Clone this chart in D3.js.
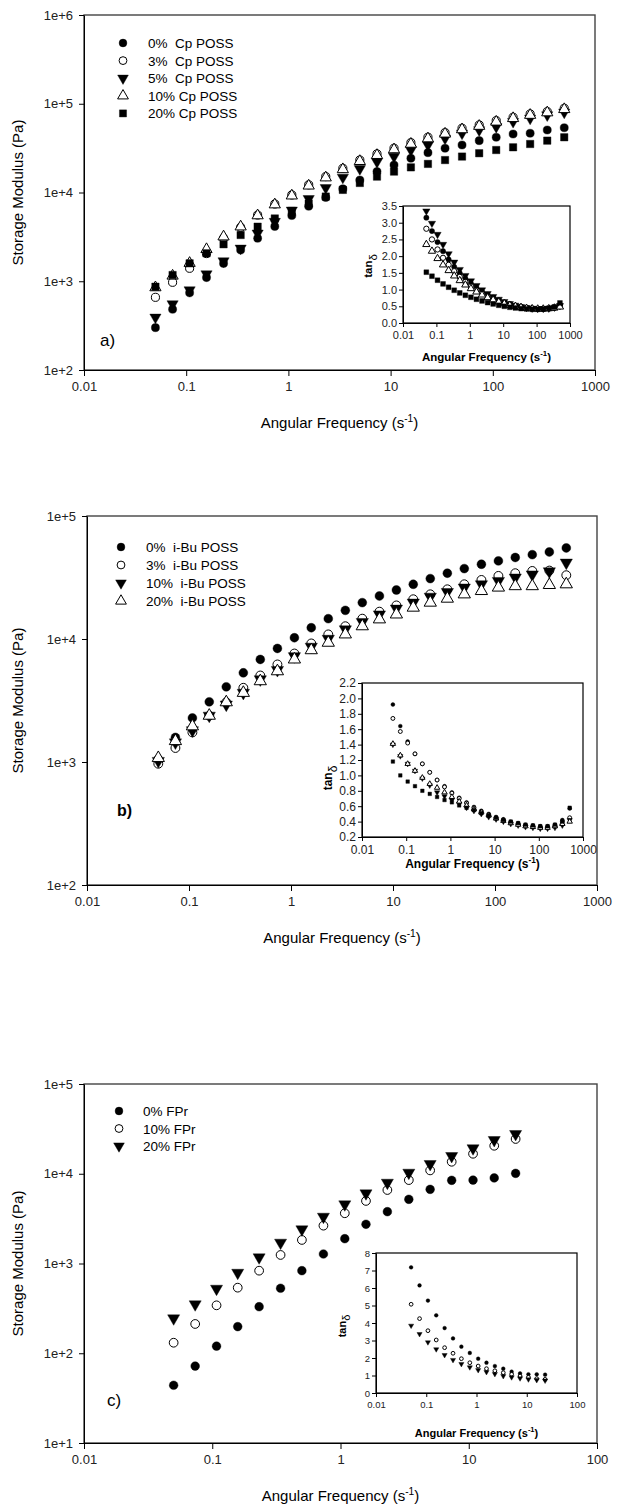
<!DOCTYPE html>
<html lang="en">
<head>
<meta charset="utf-8">
<title>Storage modulus vs angular frequency</title>
<script src="https://d3js.org/d3.v7.min.js"></script>
<style>
  body { margin: 0; background: #fff; }
  svg { display: block; font-family: "Liberation Sans", Arial, sans-serif; }
</style>
</head>
<body>
<svg id="chart" width="631" height="1505"></svg>
<script>
// ---- data ----
var freq = [0.05, 0.0736, 0.108, 0.158, 0.232, 0.341, 0.5, 0.736, 1.08, 1.58, 2.32, 3.41, 5,
            7.36, 10.8, 15.8, 23.2, 34.1, 50, 73.6, 108, 158, 232, 341, 500];
var freqC = [0.05, 0.0736, 0.108, 0.158, 0.232, 0.341, 0.5, 0.736, 1.08, 1.58, 2.32, 3.41, 5,
             7.36, 10.8, 15.8, 23.2];

// panel a) Cp POSS, storage modulus (Pa)
var gA0  = [300, 483, 740, 1100, 1590, 2250, 3050, 4150, 5500, 7000, 8800, 11000, 13800, 17200, 20400, 24300, 28100, 31500, 34300, 38400, 41900, 45600, 46500, 50600, 53700];
var gA3  = [659, 973, 1400, 2050, 3050, 4050, 5570, 7420, 9380, 12200, 15100, 18700, 23200, 27200, 31500, 36400, 41900, 47200, 52900, 57600, 64500, 70400, 76700, 81500, 88800];
var gA5  = [392, 554, 796, 1205, 1690, 2350, 3470, 4700, 6300, 8500, 11300, 14800, 18500, 22200, 25400, 30100, 34300, 40800, 46500, 50600, 55200, 62900, 68500, 74600, 80100];
var gA10 = [850, 1150, 1600, 2290, 3180, 4120, 5500, 7300, 9200, 11900, 14700, 18200, 22500, 26300, 30500, 35200, 40500, 45800, 51300, 56000, 62500, 68500, 74500, 79500, 86500];
var gA20 = [868, 1175, 1592, 2065, 2610, 3320, 4120, 5100, 6200, 7500, 9000, 10700, 12800, 15100, 17200, 19200, 21000, 23200, 25400, 27700, 30100, 32300, 35200, 38400, 41900];
// panel a) inset, tan delta
var tA0  = [3.15, 2.75, 2.42, 2.15, 1.90, 1.68, 1.49, 1.33, 1.18, 1.05, 0.94, 0.84, 0.76, 0.68, 0.62, 0.57, 0.52, 0.49, 0.46, 0.44, 0.43, 0.43, 0.44, 0.47, 0.55];
var tA3  = [2.82, 2.50, 2.20, 1.95, 1.74, 1.55, 1.38, 1.23, 1.10, 0.99, 0.89, 0.80, 0.72, 0.65, 0.60, 0.55, 0.51, 0.48, 0.45, 0.43, 0.42, 0.42, 0.43, 0.45, 0.50];
var tA5  = [3.35, 2.98, 2.65, 2.35, 2.07, 1.82, 1.60, 1.42, 1.26, 1.12, 0.99, 0.88, 0.79, 0.71, 0.64, 0.58, 0.53, 0.49, 0.46, 0.44, 0.43, 0.43, 0.44, 0.47, 0.52];
var tA10 = [2.35, 2.15, 1.93, 1.74, 1.57, 1.41, 1.27, 1.14, 1.03, 0.93, 0.84, 0.76, 0.69, 0.63, 0.58, 0.53, 0.50, 0.47, 0.44, 0.43, 0.42, 0.42, 0.43, 0.45, 0.48];
var tA20 = [1.52, 1.40, 1.28, 1.17, 1.07, 0.98, 0.90, 0.83, 0.77, 0.71, 0.66, 0.61, 0.57, 0.53, 0.50, 0.47, 0.45, 0.43, 0.42, 0.41, 0.41, 0.42, 0.44, 0.48, 0.60];

// panel b) i-Bu POSS
var gB0  = [1050, 1585, 2280, 3085, 4085, 5310, 6820, 8380, 10240, 12350, 14630, 17100, 19760, 22380, 25030, 27850, 30980, 34260, 37360, 40530, 43150, 46000, 48500, 51000, 55000];
var gB3  = [968, 1300, 1740, 2380, 3060, 4010, 5050, 6210, 7620, 9200, 10900, 12700, 14630, 16680, 18750, 21040, 23080, 25350, 27850, 30200, 32580, 34250, 35750, 36000, 33000];
var gB10 = [1020, 1443, 1810, 2380, 2930, 3650, 4700, 5600, 7250, 8650, 10040, 11970, 13740, 15840, 17650, 19770, 22070, 24090, 26200, 27850, 29620, 31600, 33500, 35500, 41800];
var gB20 = [1077, 1480, 1950, 2380, 3060, 3650, 4540, 5470, 6820, 8110, 9330, 10900, 12700, 14450, 15840, 17990, 19760, 21290, 23070, 24560, 26200, 26900, 26900, 27500, 27850];
var tB0  = [1.92, 1.64, 1.44, 1.28, 1.15, 1.04, 0.94, 0.86, 0.78, 0.71, 0.65, 0.59, 0.54, 0.50, 0.46, 0.43, 0.40, 0.38, 0.36, 0.35, 0.34, 0.34, 0.36, 0.42, 0.57];
var tB3  = [1.74, 1.57, 1.42, 1.28, 1.15, 1.04, 0.94, 0.85, 0.77, 0.70, 0.64, 0.58, 0.53, 0.49, 0.45, 0.42, 0.39, 0.37, 0.35, 0.34, 0.33, 0.33, 0.35, 0.40, 0.45];
var tB10 = [1.40, 1.25, 1.15, 1.06, 0.96, 0.87, 0.78, 0.73, 0.68, 0.63, 0.58, 0.54, 0.50, 0.46, 0.43, 0.40, 0.37, 0.35, 0.33, 0.32, 0.31, 0.31, 0.32, 0.35, 0.42];
var tB20 = [1.41, 1.26, 1.15, 1.06, 0.97, 0.89, 0.84, 0.78, 0.72, 0.66, 0.61, 0.56, 0.52, 0.48, 0.44, 0.41, 0.38, 0.36, 0.34, 0.33, 0.32, 0.32, 0.34, 0.37, 0.40];
var tBsq = [1.18, 1.00, 0.92, 0.86, 0.80, 0.76, 0.72, 0.68, 0.65, 0.61, 0.58, 0.55, 0.51, 0.48, 0.45, 0.42, 0.40, 0.38, 0.36, 0.35, 0.34, 0.34, 0.36, 0.40, 0.58];

// panel c) FPr
var gC0  = [44, 72, 120, 198, 330, 530, 832, 1276, 1890, 2735, 3780, 5190, 6700, 8450, 8500, 8980, 10100];
var gC10 = [131, 212, 342, 538, 832, 1245, 1830, 2640, 3630, 4980, 6590, 8500, 10900, 13600, 16700, 20500, 24400];
var gC20 = [245, 351, 524, 789, 1172, 1707, 2405, 3323, 4563, 6050, 7950, 10280, 12850, 15770, 19230, 23780, 27750];
var tC0  = [7.18, 6.15, 5.28, 4.44, 3.71, 3.12, 2.65, 2.29, 1.96, 1.73, 1.54, 1.39, 1.22, 1.12, 1.07, 1.07, 1.05];
var tC10 = [5.07, 4.25, 3.56, 3.03, 2.59, 2.27, 1.96, 1.73, 1.54, 1.39, 1.27, 1.16, 1.07, 0.97, 0.90, 0.82, 0.78];
var tC20 = [3.85, 3.37, 2.90, 2.50, 2.17, 1.89, 1.66, 1.47, 1.31, 1.20, 1.09, 0.97, 0.90, 0.84, 0.78, 0.74, 0.71];

var legendA = ["0%  Cp POSS", "3%  Cp POSS", "5%  Cp POSS", "10% Cp POSS", "20% Cp POSS"];
var legendB = ["0%  i-Bu POSS", "3%  i-Bu POSS", "10%  i-Bu POSS", "20%  i-Bu POSS"];
var legendC = ["0% FPr", "10% FPr", "20% FPr"];

var ticksX5 = [0.01, 0.1, 1, 10, 100, 1000];
var ticksX4 = [0.01, 0.1, 1, 10, 100];

// ---- marker kinds ----
var FILLED = {shape: d3.symbolCircle, fill: "#000"},
    OPEN   = {shape: d3.symbolCircle, fill: "#fff"},
    TDOWN  = {shape: d3.symbolTriangle, fill: "#000", down: true},
    TUP    = {shape: d3.symbolTriangle, fill: "#fff"},
    SQUARE = {shape: d3.symbolSquare, fill: "#000"};

var svg = d3.select("#chart");

function markerPath(m, size) {
  var s = size;
  if (m.shape === d3.symbolTriangle) s = size * 1.05;
  if (m.shape === d3.symbolSquare) s = size * 1.05;
  return d3.symbol().type(m.shape).size(s)();
}

function drawSeries(g, x, y, xs, ys, m, size) {
  g.append("g").selectAll("path")
    .data(ys.map(function(v, i) { return [xs[i], v]; }))
    .enter().append("path")
      .attr("d", markerPath(m, size))
      .attr("transform", function(d) {
        return "translate(" + x(d[0]) + "," + y(d[1]) + ")" + (m.down ? " rotate(180)" : "");
      })
      .attr("fill", m.fill)
      .attr("stroke", "#000")
      .attr("stroke-width", m.fill === "#fff" ? 1 : 0.4);
}

function freqTitle(g, cx, cy, size, bold) {
  var t = g.append("text")
      .attr("x", cx).attr("y", cy)
      .attr("text-anchor", "middle")
      .style("font-size", size + "px")
      .style("font-weight", bold ? "bold" : "normal");
  t.append("tspan").text("Angular Frequency (s");
  t.append("tspan").attr("dy", -size * 0.42).style("font-size", (size * 0.68) + "px").text("-1");
  t.append("tspan").attr("dy", size * 0.42).text(")");
}

function styleAxis(a, fs, color) {
  a.selectAll("text").style("font-size", fs + "px").attr("fill", color);
  a.selectAll("line").attr("stroke", "#000");
  a.select(".domain").attr("stroke", "#000");
}

// main log-log panel
function mainPanel(p) {
  var g = svg.append("g");
  var x = d3.scaleLog().domain(p.xdom).range([p.x0, p.x1]);
  var y = d3.scaleLog().domain(p.ydom).range([p.y1, p.y0]);

  g.append("rect")
    .attr("x", p.x0).attr("y", p.y0)
    .attr("width", p.x1 - p.x0).attr("height", p.y1 - p.y0)
    .attr("fill", "none").attr("stroke", "#444").attr("stroke-width", 1.4);

  var ax = g.append("g").attr("transform", "translate(0," + p.y1 + ")")
    .call(d3.axisBottom(x).tickValues(p.xticks).tickFormat(d3.format("~g"))
      .tickSize(6).tickSizeOuter(0).tickPadding(6));
  styleAxis(ax, 13, "#222");

  var yticks = [];
  for (var e = Math.round(Math.log10(p.ydom[0])); e <= Math.round(Math.log10(p.ydom[1])); e++) yticks.push(Math.pow(10, e));
  var ay = g.append("g").attr("transform", "translate(" + p.x0 + ",0)")
    .call(d3.axisLeft(y).tickValues(yticks)
      .tickFormat(function(v) { return "1e+" + Math.round(Math.log10(v)); })
      .tickSize(5).tickSizeOuter(0).tickPadding(6));
  styleAxis(ay, 13, "#222");

  freqTitle(g, (p.x0 + p.x1) / 2, p.y1 + 58, 15, false);

  g.append("text")
    .attr("transform", "translate(23," + ((p.y0 + p.y1) / 2) + ") rotate(-90)")
    .attr("text-anchor", "middle")
    .style("font-size", "15px")
    .text("Storage Modulus (Pa)");

  p.series.forEach(function(s) { drawSeries(g, x, y, p.xs, s.values, s.marker, p.msize); });

  // legend
  p.legend.forEach(function(label, i) {
    var ly = p.legY + i * p.legDy;
    g.append("path")
      .attr("d", markerPath(p.series[i].marker, p.lsize))
      .attr("transform", "translate(" + p.legX + "," + ly + ")" + (p.series[i].marker.down ? " rotate(180)" : ""))
      .attr("fill", p.series[i].marker.fill)
      .attr("stroke", "#000")
      .attr("stroke-width", p.series[i].marker.fill === "#fff" ? 1 : 0.4);
    g.append("text")
      .attr("x", p.legX + p.legGap).attr("y", ly + 5)
      .attr("xml:space", "preserve")
      .style("white-space", "pre")
      .style("font-size", "13.5px")
      .text(label);
  });

  g.append("text")
    .attr("x", p.tag.x).attr("y", p.tag.y)
    .style("font-size", p.tag.size + "px")
    .style("font-weight", p.tag.bold ? "bold" : "normal")
    .text(p.tag.text);
}

// tan delta inset
function insetPanel(p) {
  var g = svg.append("g");
  var x = d3.scaleLog().domain(p.xdom).range([p.x0, p.x1]);
  var y = d3.scaleLinear().domain(p.ydom).range([p.y1, p.y0]);

  g.append("rect")
    .attr("x", p.x0).attr("y", p.y0)
    .attr("width", p.x1 - p.x0).attr("height", p.y1 - p.y0)
    .attr("fill", "#fff").attr("stroke", "#000").attr("stroke-width", 1.2);

  var ax = g.append("g").attr("transform", "translate(0," + p.y1 + ")")
    .call(d3.axisBottom(x).tickValues(p.xticks).tickFormat(d3.format("~g"))
      .tickSize(4).tickSizeOuter(0).tickPadding(4));
  styleAxis(ax, p.fs, "#222");

  var ay = g.append("g").attr("transform", "translate(" + p.x0 + ",0)")
    .call(d3.axisLeft(y).tickValues(p.yticks).tickFormat(d3.format(p.yfmt))
      .tickSize(4).tickSizeOuter(0).tickPadding(2));
  styleAxis(ay, p.fs, "#222");

  freqTitle(g, (p.x0 + p.x1) / 2, p.titleY, p.tfs, true);

  // "tan" with a subscript delta, read bottom-to-top
  var t = g.append("text")
    .attr("transform", "translate(" + p.labX + "," + p.labY + ") rotate(-90)")
    .attr("text-anchor", "middle")
    .style("font-size", p.tfs + "px")
    .style("font-weight", "bold");
  t.append("tspan").text("tan");
  t.append("tspan").attr("dy", p.tfs * 0.4).style("font-weight", "normal").text("δ");

  p.series.forEach(function(s) { drawSeries(g, x, y, p.xs, s.values, s.marker, p.msize); });
}

// ---- panel a ----
mainPanel({
  x0: 84, x1: 595, y0: 15, y1: 370, xdom: [0.01, 1000], ydom: [1e2, 1e6], xticks: ticksX5,
  xs: freq, msize: 52, lsize: 48,
  series: [
    {values: gA0, marker: FILLED}, {values: gA3, marker: OPEN}, {values: gA5, marker: TDOWN},
    {values: gA10, marker: TUP}, {values: gA20, marker: SQUARE}
  ],
  legend: legendA, legX: 123, legY: 43, legDy: 17.6, legGap: 25,
  tag: {text: "a)", x: 100, y: 346, size: 17, bold: false}
});
insetPanel({
  x0: 403, x1: 570, y0: 206, y1: 323, xdom: [0.01, 1000], ydom: [0, 3.5], xticks: ticksX5,
  yticks: [0, 0.5, 1, 1.5, 2, 2.5, 3, 3.5], yfmt: ".1f", fs: 11, tfs: 11.5,
  titleY: 361, labX: 372, labY: 266,
  xs: freq, msize: 22,
  series: [
    {values: tA0, marker: FILLED}, {values: tA3, marker: OPEN}, {values: tA5, marker: TDOWN},
    {values: tA10, marker: TUP}, {values: tA20, marker: SQUARE}
  ]
});

// ---- panel b ----
mainPanel({
  x0: 87, x1: 597, y0: 516, y1: 885, xdom: [0.01, 1000], ydom: [1e2, 1e5], xticks: ticksX5,
  xs: freq, msize: 62, lsize: 48,
  series: [
    {values: gB0, marker: FILLED}, {values: gB3, marker: OPEN},
    {values: gB10, marker: TDOWN}, {values: gB20, marker: TUP}
  ],
  legend: legendB, legX: 121, legY: 547, legDy: 18, legGap: 25,
  tag: {text: "b)", x: 117, y: 816, size: 16, bold: true}
});
insetPanel({
  x0: 362, x1: 583, y0: 683, y1: 837, xdom: [0.01, 1000], ydom: [0.2, 2.2], xticks: ticksX5,
  yticks: [0.2, 0.4, 0.6, 0.8, 1.0, 1.2, 1.4, 1.6, 1.8, 2.0, 2.2], yfmt: ".1f", fs: 12, tfs: 12,
  titleY: 868, labX: 332, labY: 778,
  xs: freq, msize: 12,
  series: [
    {values: tB0, marker: FILLED}, {values: tB3, marker: OPEN}, {values: tB10, marker: TDOWN},
    {values: tB20, marker: TUP}, {values: tBsq, marker: SQUARE}
  ]
});

// ---- panel c ----
mainPanel({
  x0: 84, x1: 597, y0: 1084, y1: 1443, xdom: [0.01, 100], ydom: [1e1, 1e5], xticks: ticksX4,
  xs: freqC, msize: 60, lsize: 48,
  series: [
    {values: gC0, marker: FILLED}, {values: gC10, marker: OPEN}, {values: gC20, marker: TDOWN}
  ],
  legend: legendC, legX: 119, legY: 1111, legDy: 17.5, legGap: 24,
  tag: {text: "c)", x: 107, y: 1406, size: 17, bold: false}
});
insetPanel({
  x0: 376, x1: 577, y0: 1253, y1: 1393, xdom: [0.01, 100], ydom: [0, 8], xticks: ticksX4,
  yticks: [0, 1, 2, 3, 4, 5, 6, 7, 8], yfmt: "d", fs: 9.5, tfs: 11,
  titleY: 1437, labX: 346, labY: 1326,
  xs: freqC, msize: 11,
  series: [
    {values: tC0, marker: FILLED}, {values: tC10, marker: OPEN}, {values: tC20, marker: TDOWN}
  ]
});
</script>
</body>
</html>
